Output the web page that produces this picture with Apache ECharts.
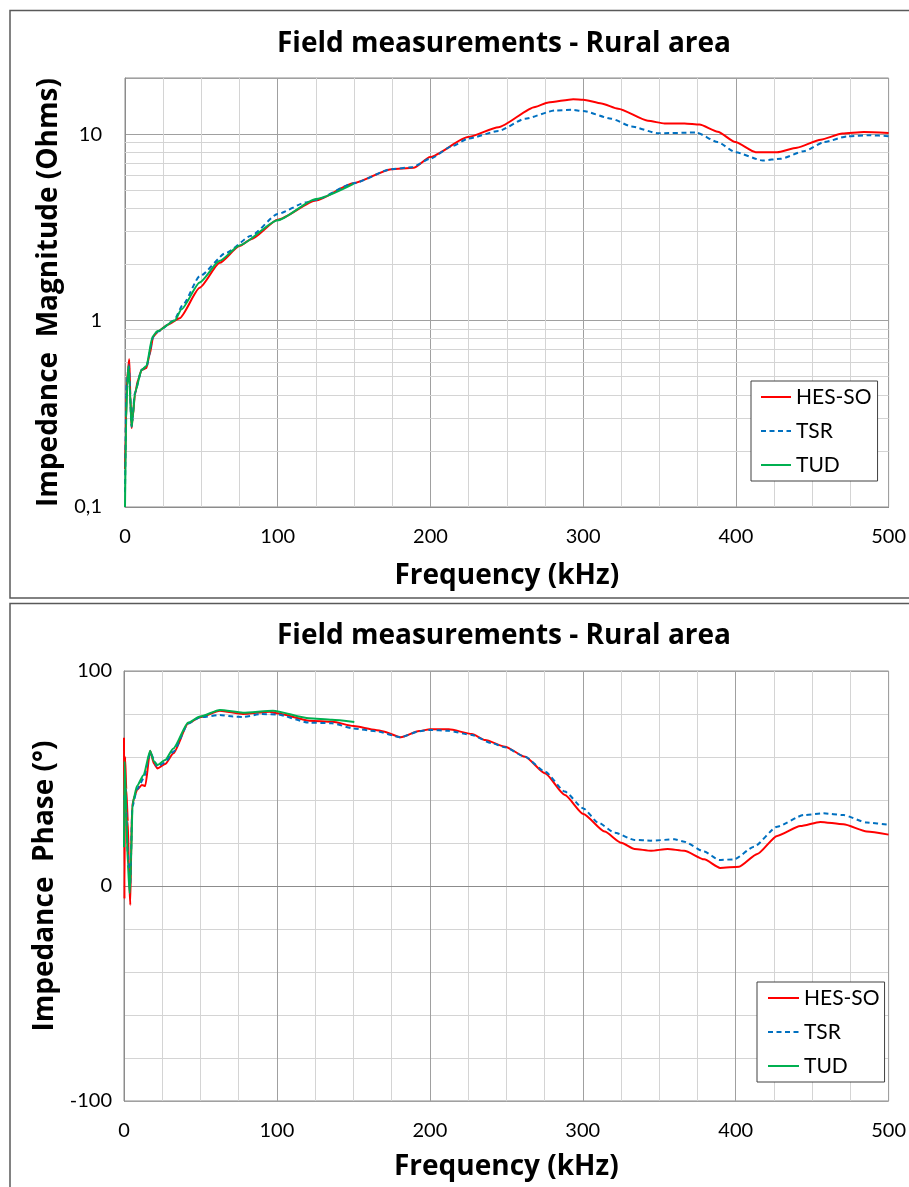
<!DOCTYPE html>
<html>
<head>
<meta charset="utf-8">
<script src="https://cdn.jsdelivr.net/npm/echarts@6/dist/echarts.min.js"></script>
<style>
  html, body { margin: 0; padding: 0; background: #fff; }
  #chart { width: 909px; height: 1187px; }
</style>
</head>
<body>
<div id="chart"></div>
<script>
// impedance magnitude (Ohms) vs frequency (kHz)
const magHesFreq = [0, 0.5, 1, 2, 2.8, 3.5, 4.3, 5, 6.5, 8.5, 10.9, 14, 16, 18.5, 21.7, 28, 35.8, 48.9, 62, 75, 82.6, 100, 125, 149.6, 174.4, 189, 199.8, 224.6, 244.6, 268.5, 277.2, 293.5, 300, 312, 322.9, 342.4, 353.3, 366.4, 376.2, 388.1, 399.6, 413, 427, 440, 455.5, 469.7, 483.8, 500];
const magHesVal = [0.16, 0.25, 0.42, 0.55, 0.62, 0.4, 0.265, 0.3, 0.4, 0.48, 0.544, 0.556, 0.65, 0.82, 0.875, 0.95, 1.03, 1.5, 2.04, 2.51, 2.73, 3.47, 4.4, 5.45, 6.49, 6.6, 7.53, 9.64, 10.9, 14.0, 14.8, 15.4, 15.3, 14.6, 13.7, 11.8, 11.4, 11.4, 11.25, 10.3, 9.06, 8.0, 8.0, 8.46, 9.34, 10.07, 10.26, 10.14];

const magTsrFreq = [0, 1, 2.5, 4.3, 6.5, 10.9, 14, 18.5, 21.7, 32, 38, 48.9, 66.3, 82.6, 100, 118.5, 125, 149.6, 174.4, 188, 199.8, 214, 224.6, 244.6, 262, 281.6, 292.4, 300, 318.5, 331.6, 349, 374, 388.1, 399.6, 417.5, 429.4, 444.6, 457.7, 472.9, 488, 500];
const magTsrVal = [0.12, 0.45, 0.58, 0.27, 0.41, 0.545, 0.565, 0.82, 0.875, 1.0, 1.22, 1.73, 2.31, 2.85, 3.73, 4.3, 4.45, 5.45, 6.49, 6.65, 7.38, 8.6, 9.46, 10.4, 12.1, 13.4, 13.5, 13.3, 12.1, 11.0, 10.1, 10.2, 9.06, 8.0, 7.22, 7.38, 8.1, 9.06, 9.73, 9.86, 9.75];

const magTudFreq = [0, 0.8, 1.5, 2.2, 3, 4.3, 5, 6.5, 10.9, 14, 18, 21, 32.6, 37, 48.9, 62, 75, 100, 125, 149.6];
const magTudVal = [0.1, 0.3, 0.45, 0.57, 0.45, 0.27, 0.3, 0.41, 0.544, 0.57, 0.82, 0.875, 1.0, 1.15, 1.6, 2.09, 2.53, 3.45, 4.49, 5.41];

// impedance phase (deg) vs frequency (kHz)
const phHesFreq = [0, 0.3, 0.7, 1.5, 2.5, 3.3, 4.1, 5.2, 7, 8.5, 11.7, 13.9, 17.1, 19.5, 21.9, 26.9, 32.3, 42, 49.7, 62.7, 77.8, 95.2, 100, 121.3, 136.4, 150, 164.6, 169, 181, 193, 200.2, 212.4, 227.5, 236.2, 249.2, 262.3, 275.3, 288.3, 300.4, 314.3, 325.1, 333.9, 344.7, 355.5, 366.4, 379.4, 389.8, 402.2, 414.1, 427.1, 442.3, 455.3, 470.5, 485.7, 500];
const phHesVal = [69, -6, 60, 45, 30, 5, -8.8, 37, 42, 44.7, 47, 46.5, 62.9, 57, 54.7, 56.7, 61.7, 75.7, 78.5, 81.5, 80, 81.1, 80.3, 76.9, 76.4, 74.4, 72.6, 72, 69.2, 72.1, 72.9, 72.9, 70.7, 67.9, 64.8, 60.1, 52.4, 42.3, 33.5, 25.3, 20.1, 17.2, 16.4, 17.2, 16.4, 12.4, 8.4, 9.0, 14.9, 23.3, 27.9, 29.8, 28.7, 25.4, 23.9];

const phTsrFreq = [0, 1, 2.5, 4, 5.5, 8.5, 12.8, 17.1, 21.9, 26.9, 32.3, 42, 49.7, 62.7, 71.3, 77.8, 90, 100, 121, 136, 150, 164.6, 181, 193, 200, 212, 227.5, 240.5, 249.2, 262.3, 275.3, 288.3, 300.4, 310, 320.9, 333.9, 344.7, 359.9, 366.4, 379.4, 389.2, 399, 412, 427.1, 444.5, 457.5, 470.5, 485.7, 500];
const phTsrVal = [40, 45, 15, 0, 37, 45, 50, 62, 55.5, 57.5, 62.5, 75.5, 78.5, 79.5, 78.8, 78.6, 80, 79.8, 76, 75.7, 73.3, 72, 69.2, 72, 72.6, 72.2, 70.2, 66.4, 64.5, 60.1, 53.2, 43.9, 36.1, 29.5, 24.8, 21.4, 21.1, 21.7, 20.6, 16, 12.1, 12.4, 18.3, 27.6, 33, 33.8, 33, 29.5, 28.5];

const phTudFreq = [0, 0.4, 1.5, 2.5, 3.7, 4.5, 5.6, 8.5, 12.8, 17.1, 19.5, 21.9, 26.9, 32.3, 42, 49.7, 62.7, 77.8, 97.4, 121, 136, 150.6];
const phTudVal = [18, 58, 34, 10, -3.4, 10, 38.5, 46.5, 51.6, 62.9, 58, 56.3, 58.6, 64, 76, 78.8, 81.9, 80.6, 81.5, 78, 77.3, 76.3];

// minor gridlines of the log axis (2..9 in each decade)
const magMinorTicks = [0.2, 0.3, 0.4, 0.5, 0.6, 0.7, 0.8, 0.9, 2, 3, 4, 5, 6, 7, 8, 9];

const seriesNames = ['HES-SO', 'TSR', 'TUD'];
const chartTitle = 'Field measurements - Rural area';

const FONT = 'Lato, "Open Sans", sans-serif';
const BOLD_FONT = '"Open Sans", Lato, sans-serif';
const RED = '#ff0000', BLUE = '#0070c0', GREEN = '#00b050';
const MAJOR = '#a0a0a0', MINOR = '#d4d4d4';

const zip = (xs, ys) => xs.map((x, i) => [x, ys[i]]);

const chart = echarts.init(document.getElementById('chart'));

const nameStyle = { fontFamily: BOLD_FONT, fontSize: 28, fontWeight: 'bold', color: '#000' };

const xAxisCommon = {
    type: 'value', min: 0, max: 500, interval: 100,
    nameLocation: 'middle',
    nameTextStyle: nameStyle,
    axisLine: { show: true, lineStyle: { color: '#8c8c8c' } },
    axisTick: { show: false },
    axisLabel: { fontFamily: FONT, fontSize: 20, color: '#000', margin: 20 },
    splitLine: { show: true, lineStyle: { color: MAJOR } },
    minorTick: { show: false, splitNumber: 4 },
    minorSplitLine: { show: true, lineStyle: { color: MINOR } }
};

function lineSeries(name, data, color, dashed, xi, extra) {
    return Object.assign({
        name, type: 'line', data,
        xAxisIndex: xi, yAxisIndex: xi,
        showSymbol: false, symbol: 'none',
        smooth: 0.2, smoothMonotone: 'x',
        lineStyle: { color, width: 2, type: dashed ? [5, 3.5] : 'solid' },
        itemStyle: { color },
        z: 3
    }, extra || {});
}

const legendCommon = {
    orient: 'vertical',
    data: seriesNames,
    backgroundColor: '#fff',
    borderColor: '#404040', borderWidth: 1,
    itemWidth: 30, itemHeight: 14, itemGap: 12,
    itemStyle: { opacity: 0 },
    textStyle: { fontFamily: FONT, fontSize: 21, color: '#000', lineHeight: 22 },
    selectedMode: false
};

chart.setOption({
    animation: false,
    backgroundColor: '#fff',
    graphic: [
        { type: 'rect', shape: { x: 10, y: 10.5, width: 940, height: 587.5 },
          style: { fill: 'none', stroke: '#595959', lineWidth: 1.5 }, z: 0 },
        { type: 'rect', shape: { x: 10, y: 603.5, width: 940, height: 640 },
          style: { fill: 'none', stroke: '#595959', lineWidth: 1.5 }, z: 0 },
        { type: 'text', x: 504, y: 44,
          style: { text: chartTitle, font: 'bold 28px ' + BOLD_FONT, fill: '#000', align: 'center', verticalAlign: 'middle' } },
        { type: 'text', x: 504, y: 636,
          style: { text: chartTitle, font: 'bold 28px ' + BOLD_FONT, fill: '#000', align: 'center', verticalAlign: 'middle' } }
    ],
    grid: [
        { left: 125, top: 78, width: 766, height: 429, show: true, borderColor: '#8c8c8c', borderWidth: 1 },
        { left: 124, top: 671, width: 768, height: 430, show: true, borderColor: '#8c8c8c', borderWidth: 1 }
    ],
    legend: [
        Object.assign({}, legendCommon, { left: 751, top: 381, padding: [5, 6, 5, 9] }),
        Object.assign({}, legendCommon, { left: 757, top: 982, padding: [5, 5, 5, 10], itemWidth: 31 })
    ],
    xAxis: [
        Object.assign({}, xAxisCommon, { gridIndex: 0, name: 'Frequency (kHz)', nameGap: 55 }),
        Object.assign({}, xAxisCommon, { gridIndex: 1, name: 'Frequency (kHz)', nameGap: 52 })
    ],
    yAxis: [
        {
            gridIndex: 0, type: 'log', logBase: 10, min: 0.1, max: 20,
            name: 'Impedance  Magnitude (Ohms)', nameLocation: 'middle', nameGap: 62,
            nameTextStyle: nameStyle,
            axisLine: { show: true, lineStyle: { color: '#8c8c8c' } },
            axisTick: { show: false },
            axisLabel: {
                fontFamily: FONT, fontSize: 20, color: '#000', margin: 23, showMaxLabel: false,
                formatter: v => String(+v.toPrecision(3)).replace('.', ',')
            },
            splitLine: { show: true, lineStyle: { color: MAJOR } }
        },
        {
            gridIndex: 1, type: 'value', min: -100, max: 100, interval: 100,
            name: 'Impedance  Phase (°)', nameLocation: 'middle', nameGap: 61,
            nameTextStyle: nameStyle,
            axisLine: { show: true, lineStyle: { color: '#8c8c8c' } },
            axisTick: { show: false },
            axisLabel: { fontFamily: FONT, fontSize: 20, color: '#000', margin: 12 },
            splitLine: { show: true, lineStyle: { color: MAJOR } },
            minorTick: { show: false, splitNumber: 5 },
            minorSplitLine: { show: true, lineStyle: { color: MINOR } }
        }
    ],
    series: [
        lineSeries('HES-SO', zip(magHesFreq, magHesVal), RED, false, 0, {
            markLine: {
                silent: true, symbol: 'none', z: 1,
                label: { show: false },
                lineStyle: { color: MINOR, type: 'solid', width: 1 },
                data: magMinorTicks.map(v => ({ yAxis: v }))
            }
        }),
        lineSeries('TSR', zip(magTsrFreq, magTsrVal), BLUE, true, 0),
        lineSeries('TUD', zip(magTudFreq, magTudVal), GREEN, false, 0),
        lineSeries('HES-SO', zip(phHesFreq, phHesVal), RED, false, 1),
        lineSeries('TSR', zip(phTsrFreq, phTsrVal), BLUE, true, 1),
        lineSeries('TUD', zip(phTudFreq, phTudVal), GREEN, false, 1)
    ]
});
</script>
</body>
</html>
